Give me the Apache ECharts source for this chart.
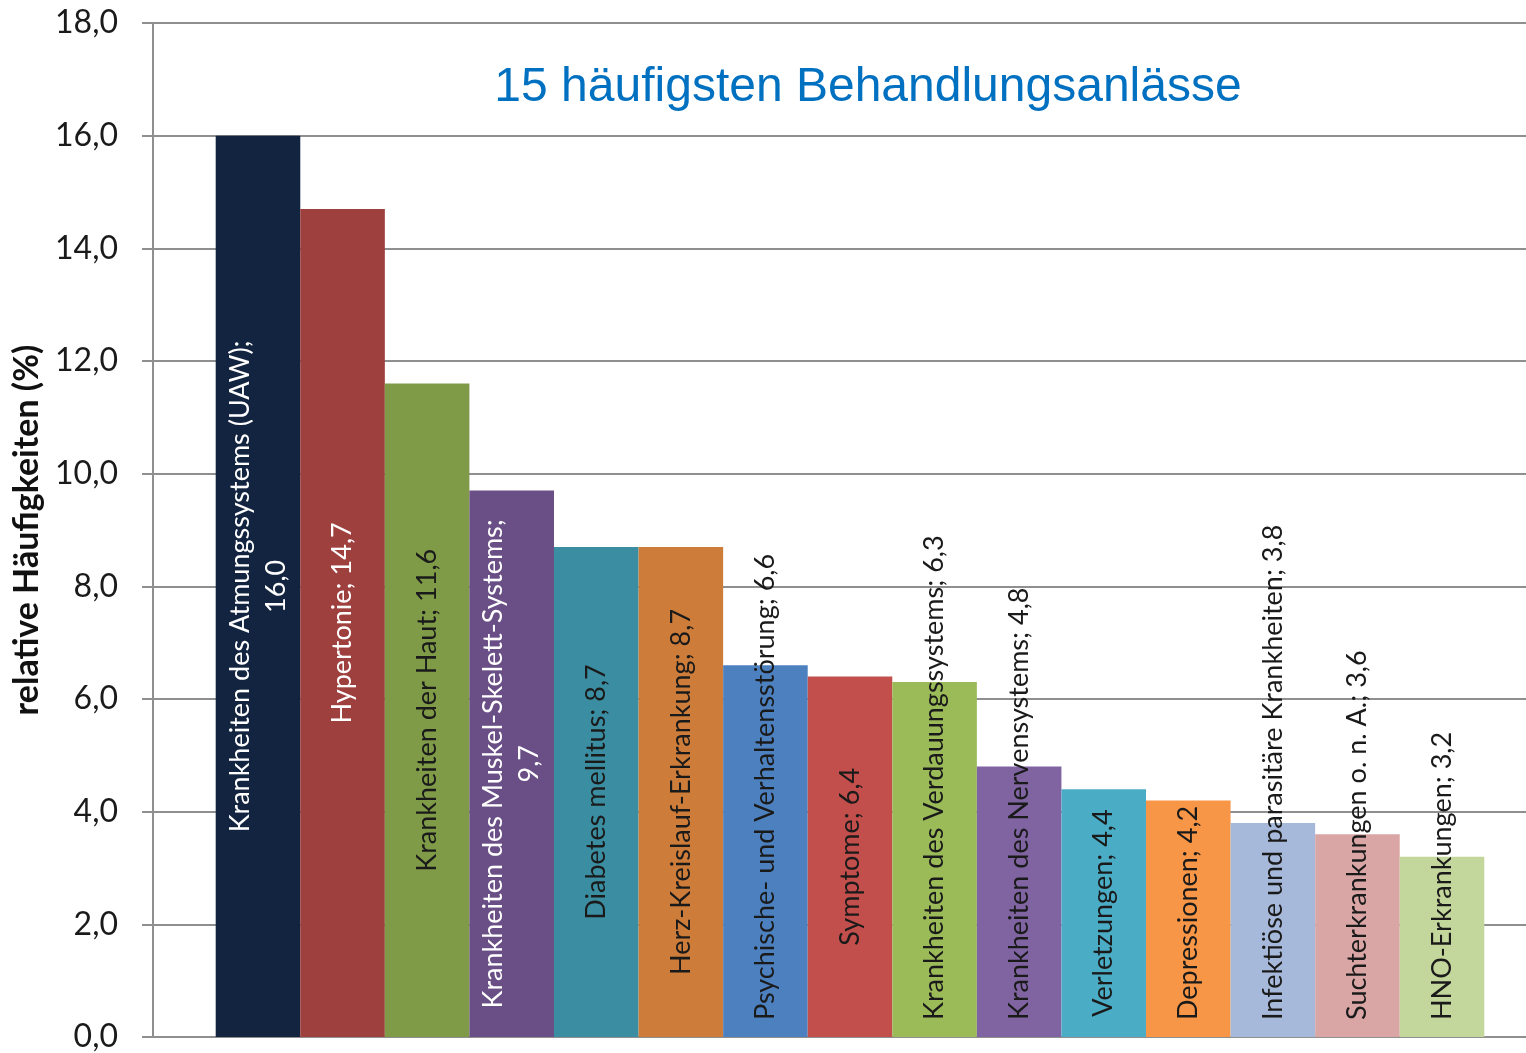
<!DOCTYPE html>
<html><head><meta charset="utf-8">
<script src="https://cdn.jsdelivr.net/npm/echarts@6/dist/echarts.min.js"></script>
<style>html,body{margin:0;padding:0;background:#fff}#c{width:1526px;height:1053px}</style>
</head><body><div id="c"></div>
<script>
const titleText = "15 häufigsten Behandlungsanlässe";
const yAxisTitle = "relative Häufigkeiten (%)";
const categories = [
  "Krankheiten des Atmungssystems (UAW)",
  "Hypertonie",
  "Krankheiten der Haut",
  "Krankheiten des Muskel-Skelett-Systems",
  "Diabetes mellitus",
  "Herz-Kreislauf-Erkrankung",
  "Psychische- und Verhaltensstörung",
  "Symptome",
  "Krankheiten des Verdauungssystems",
  "Krankheiten des Nervensystems",
  "Verletzungen",
  "Depressionen",
  "Infektiöse und parasitäre Krankheiten",
  "Suchterkrankungen o. n. A.",
  "HNO-Erkrankungen"
];
const values = [16.0, 14.7, 11.6, 9.7, 8.7, 8.7, 6.6, 6.4, 6.3, 4.8, 4.4, 4.2, 3.8, 3.6, 3.2];
const yMin = 0, yMax = 18, yStep = 2;

const colors = ["#12243f","#9e403e","#7f9b48","#6a4f86","#3b8da2","#cd7c3a","#4d80bf","#c24f4c",
                "#9bbb59","#8064a2","#4bacc6","#f79646","#a7b9da","#d9a6a5","#c3d69b"];
const whiteLabels = new Set([0, 1, 3]);
const bottomAnchored = new Set([6, 8, 9, 11, 12, 13, 14]);
const fmt = v => v.toFixed(1).replace('.', ',');
const gridCol = '#8f8f8f';
const labelFont = { family: 'Lato', size: 27 };
const maxLabelLen = 515;

const measureCtx = document.createElement('canvas').getContext('2d');
function labelText(name, value) {
  measureCtx.font = labelFont.size + 'px ' + labelFont.family;
  const full = name + '; ' + fmt(value);
  if (measureCtx.measureText(full).width <= maxLabelLen) return full;
  return name + ';\n' + fmt(value);
}

const data = values.map((v, i) => {
  const bottom = bottomAnchored.has(i);
  const color = whiteLabels.has(i) ? '#ffffff' : '#1a1a1a';
  return {
    value: v,
    itemStyle: { color: colors[i] },
    label: bottom
      ? { position: 'insideBottom', distance: 17, align: 'left', verticalAlign: 'middle', color }
      : { position: 'inside', align: 'center', verticalAlign: 'middle', color }
  };
});

function render() {
  const chart = echarts.init(document.getElementById('c'), null, { renderer: 'canvas' });
  chart.setOption({
    animation: false,
    backgroundColor: '#ffffff',
    title: {
      text: titleText, left: 863, top: 59, textAlign: 'center',
      textStyle: { fontFamily: 'Liberation Sans', fontSize: 48, fontWeight: 'normal', color: '#0070c0' }
    },
    grid: [
      { left: 153, right: 0, top: 23, bottom: 16, outerBoundsMode: 'none', containLabel: false },
      { left: 215.7, right: 41.7, top: 23, bottom: 16, outerBoundsMode: 'none', containLabel: false }
    ],
    xAxis: [
      { gridIndex: 0, type: 'value', min: 0, max: 1,
        axisLine: { show: true, lineStyle: { color: gridCol, width: 2 } },
        axisTick: { show: false }, axisLabel: { show: false }, splitLine: { show: false } },
      { gridIndex: 1, type: 'category', data: categories, show: false }
    ],
    yAxis: [
      { gridIndex: 0, type: 'value', min: yMin, max: yMax, interval: yStep,
        name: yAxisTitle, nameLocation: 'middle', nameGap: 107, nameRotate: 90,
        nameTextStyle: { fontFamily: 'Lato', fontWeight: 'bold', fontSize: 34, color: '#111' },
        axisLine: { show: true, lineStyle: { color: gridCol, width: 2 } },
        axisTick: { show: true, length: 11, lineStyle: { color: gridCol, width: 2 } },
        splitLine: { show: true, lineStyle: { color: gridCol, width: 2 } },
        axisLabel: { formatter: fmt, margin: 35, fontFamily: 'Lato', fontSize: 32, color: '#1a1a1a' } },
      { gridIndex: 1, type: 'value', min: yMin, max: yMax, show: false }
    ],
    series: [{
      type: 'bar', xAxisIndex: 1, yAxisIndex: 1,
      barWidth: '100%', barCategoryGap: 0,
      data: data,
      label: {
        show: true, rotate: 90, fontFamily: labelFont.family, fontSize: labelFont.size, lineHeight: 36,
        formatter: p => labelText(p.name, p.value)
      }
    }]
  });
}
if (document.fonts && document.fonts.load) {
  document.fonts.load(labelFont.size + 'px ' + labelFont.family).then(render, render);
} else { render(); }
</script></body></html>
